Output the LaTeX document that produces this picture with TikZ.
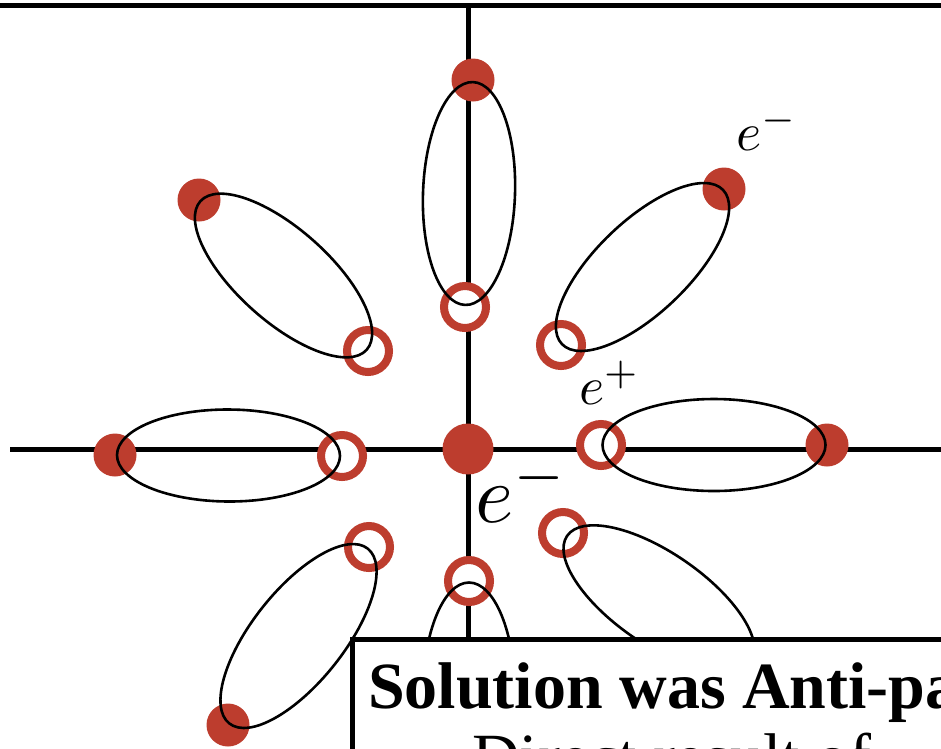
\documentclass[tikz,border=0pt]{standalone}
\usepackage{fontspec}
\newfontfamily\slidefont{Liberation Serif}
\usetikzlibrary{calc}
\definecolor{pairred}{RGB}{189,61,46}
\tikzset{
  axisline/.style={line width=5pt},
  pairloop/.style={line width=2.6pt},
  fulldot/.style={circle, fill=pairred, inner sep=0pt, minimum size=43pt},
  hole/.style={circle, draw=pairred, fill=white, line width=8pt, inner sep=0pt, minimum size=42pt},
  charge/.style={inner sep=0pt, anchor=base west},
}
% draws the loop joining the two ends of a pair
\newcommand{\pairloop}[2]{%
  \draw[pairloop] let \p1=($(#2)-(#1)$), \n1={atan2(\y1,\x1)} in
    ($(#1)!0.5!(#2)$) ellipse [x radius=111.5pt, y radius=46pt, rotate=\n1];}
\begin{document}
\begin{tikzpicture}[x=1pt,y=-1pt]
  \path[use as bounding box, clip] (0,0) rectangle (941,748);
  \fill[white] (0,0) rectangle (941,748);

  % frame line and axes
  \coordinate (frameL) at (0,5.5);
  \coordinate (frameR) at (941,5.5);
  \coordinate (ytop) at (468,5.5);
  \coordinate (ybot) at (468,748);
  \coordinate (xleft) at (10,449);
  \coordinate (xright) at (941,449);
  \draw[axisline] (frameL) -- (frameR);
  \draw[axisline] (ytop) -- (ybot);
  \draw[axisline] (xleft) -- (xright);

  % central electron
  \node[fulldot, minimum size=51pt] (core) at (468,449) {};

  % electron ends of the pairs
  \node[fulldot] (f1) at (473,80) {};
  \node[fulldot] (f2) at (199,200) {};
  \node[fulldot] (f3) at (724,189) {};
  \node[fulldot] (f4) at (115,455) {};
  \node[fulldot] (f5) at (827,445) {};
  \node[fulldot] (f6) at (228,725) {};
  \coordinate (f7) at (469,807);
  \coordinate (f8) at (755,665);

  % positron ends of the pairs
  \node[hole] (o1) at (465,307) {};
  \node[hole] (o2) at (368,351) {};
  \node[hole] (o3) at (561,345) {};
  \node[hole] (o4) at (342,456) {};
  \node[hole] (o5) at (601,445) {};
  \node[hole] (o6) at (369,547) {};
  \node[hole] (o7) at (469,581) {};
  \node[hole] (o8) at (563,533) {};

  % pair loops
  \pairloop{o1}{f1}
  \pairloop{o2}{f2}
  \pairloop{o3}{f3}
  \pairloop{o4}{f4}
  \pairloop{o5}{f5}
  \pairloop{o6}{f6}
  \pairloop{o7}{f7}
  \pairloop{o8}{f8}

  % charge labels
  \node[charge, scale=5.4] (lbl1) at (735,150) {$e^-$};
  \node[charge, scale=5.4] (lbl2) at (578,404) {$e^+$};
  \node[charge, scale=8.2] (lbl3) at (474,522) {$e^-$};

  % caption box
  \node[draw, line width=5pt, fill=white, anchor=north west, minimum width=700pt,
        minimum height=200pt, inner sep=0pt] (note) at (350,637) {};
  \node[charge, font=\slidefont\bfseries\fontsize{66}{72}\selectfont] (line1) at (368,708)
    {Solution was Anti-particles};
  \node[charge, font=\slidefont\fontsize{66}{72}\selectfont] (line2) at (472,779)
    {Direct result of};
\end{tikzpicture}
\end{document}
